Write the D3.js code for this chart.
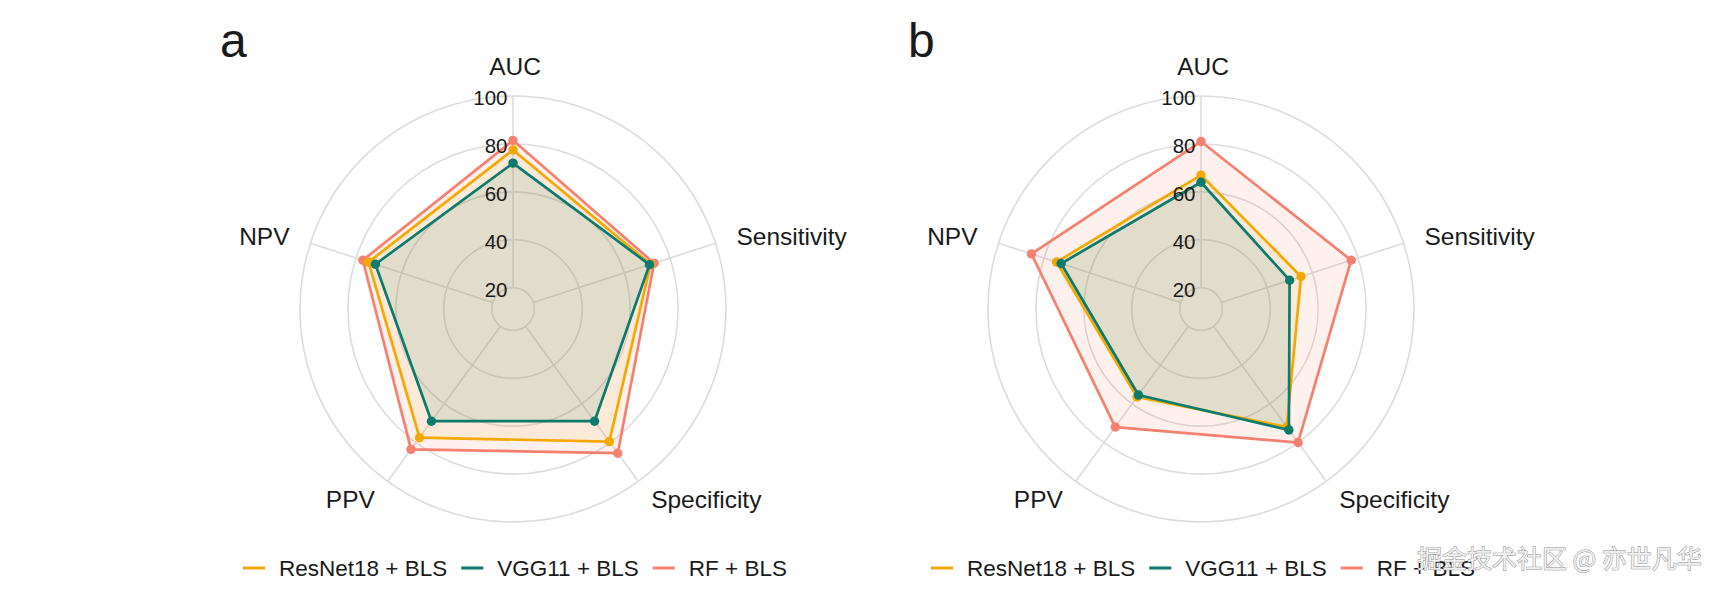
<!DOCTYPE html>
<html>
<head>
<meta charset="utf-8">
<script src="https://cdn.jsdelivr.net/npm/d3@7"></script>
<style>
  html, body { margin: 0; padding: 0; background: #fff; }
  svg { display: block; font-family: "Liberation Sans", Arial, Helvetica, sans-serif; }
</style>
</head>
<body>
<svg id="chart" width="1718" height="590"></svg>
<script>
// ---- data ----
const axesNames = ["AUC", "Sensitivity", "Specificity", "PPV", "NPV"];
const models = ["ResNet18 + BLS", "VGG11 + BLS", "RF + BLS"];
const gridTicks = [20, 40, 60, 80, 100];
const panelLabels = ["a", "b"];

const aResNet = [77.5, 71.5, 79.5, 77.5, 74.5];
const aVGG    = [72.0, 71.0, 69.0, 69.0, 71.5];
const aRF     = [81.5, 73.0, 85.5, 83.5, 77.0];

const bResNet = [67.0, 55.0, 72.0, 56.5, 74.5];
const bVGG    = [64.0, 50.0, 73.5, 55.5, 72.5];
const bRF     = [81.0, 77.0, 80.0, 72.0, 85.5];

const colors = ["#F5A800", "#0A7B6C", "#F6806F"];
const watermark = "掘金技术社区 @ 亦世凡华";

// ---- layout ----
const svg = d3.select("#chart");
const cy = 309;
const panels = [
  { label: panelLabels[0], cx: 513, series: [aResNet, aVGG, aRF] },
  { label: panelLabels[1], cx: 1201, series: [bResNet, bVGG, bRF] }
];
const rMax = 213;
const centreVal = 20 - (100 - 20) / 9;   // radial origin below the inner grid ring
const r = d3.scaleLinear().domain([centreVal, 100]).range([0, rMax]);
const angle = d3.scaleBand().domain(axesNames).range([0, 2 * Math.PI]).align(0).paddingInner(0).paddingOuter(0);
const ang = name => angle(name);
const px = (a, rad) => Math.sin(a) * rad;
const py = (a, rad) => -Math.cos(a) * rad;

const drawOrder = [2, 0, 1]; // RF below, then ResNet, then VGG on top
const fillOpacity = [0.09, 0.11, 0.12];

panels.forEach(p => {
  const g = svg.append("g").attr("transform", `translate(${p.cx},${cy})`);

  // grid circles
  g.selectAll("circle.grid").data(gridTicks).join("circle")
    .attr("class", "grid")
    .attr("r", d => r(d))
    .attr("fill", "none")
    .attr("stroke", "#DCDCDC")
    .attr("stroke-width", 1.6);

  // axis lines
  g.selectAll("line.axis").data(axesNames).join("line")
    .attr("x1", d => px(ang(d), r(20))).attr("y1", d => py(ang(d), r(20)))
    .attr("x2", d => px(ang(d), r(100))).attr("y2", d => py(ang(d), r(100)))
    .attr("stroke", "#DCDCDC")
    .attr("stroke-width", 1.6);

  const lineGen = d3.lineRadial()
    .angle((d, i) => ang(axesNames[i]))
    .radius(d => r(d))
    .curve(d3.curveLinearClosed);

  // fills
  drawOrder.forEach(si => {
    g.append("path")
      .attr("d", lineGen(p.series[si]))
      .attr("fill", colors[si])
      .attr("fill-opacity", fillOpacity[si])
      .attr("stroke", "none");
  });
  // outlines + points
  drawOrder.forEach(si => {
    g.append("path")
      .attr("d", lineGen(p.series[si]))
      .attr("fill", "none")
      .attr("stroke", colors[si])
      .attr("stroke-width", 2.7)
      .attr("stroke-linejoin", "round");
    g.selectAll(null).data(p.series[si]).join("circle")
      .attr("cx", (d, i) => px(ang(axesNames[i]), r(d)))
      .attr("cy", (d, i) => py(ang(axesNames[i]), r(d)))
      .attr("r", 4.7)
      .attr("fill", colors[si]);
  });

  // tick labels
  g.selectAll("text.tick").data(gridTicks).join("text")
    .attr("x", -5.5)
    .attr("y", d => -r(d) + 1.5)
    .attr("text-anchor", "end")
    .attr("dominant-baseline", "central")
    .attr("font-size", 20.5)
    .attr("fill", "#1a1a1a")
    .text(d => d);

  // axis labels
  const rl = 235;
  g.selectAll("text.axlab").data(axesNames).join("text")
    .attr("x", d => d === "AUC" ? 2 : px(ang(d), rl))
    .attr("y", d => d === "AUC" ? -243 : py(ang(d), rl))
    .attr("text-anchor", d => {
      const s = Math.sin(ang(d));
      return Math.abs(s) < 0.01 ? "middle" : (s > 0 ? "start" : "end");
    })
    .attr("dominant-baseline", "central")
    .attr("font-size", 24.5)
    .attr("fill", "#1a1a1a")
    .text(d => d);

  // panel label
  svg.append("text")
    .attr("x", p.cx - 293)
    .attr("y", 57)
    .attr("font-size", 48)
    .attr("fill", "#1a1a1a")
    .text(p.label);

  // legend
  const lg = svg.append("g");
  let x = 0;
  models.forEach((m, i) => {
    const it = lg.append("g");
    it.append("line")
      .attr("x1", x).attr("x2", x + 22)
      .attr("y1", 0).attr("y2", 0)
      .attr("stroke", colors[i]).attr("stroke-width", 3);
    const t = it.append("text")
      .attr("x", x + 36).attr("y", 0)
      .attr("dominant-baseline", "central")
      .attr("font-size", 22.5)
      .attr("fill", "#1a1a1a")
      .text(m);
    const w = t.node().getComputedTextLength();
    x += 36 + w + 14;
  });
  const total = x - 14;
  lg.attr("transform", `translate(${p.cx + 2 - total / 2},${568})`);
});

// watermark (overlaps the last legend entry, as in the reference)
svg.append("text")
  .attr("x", 1417).attr("y", 557)
  .attr("dominant-baseline", "central")
  .attr("font-family", "'Noto Sans CJK SC', sans-serif")
  .attr("font-size", 25)
  .attr("fill", "#efefef")
  .attr("stroke", "#8a8a8a")
  .attr("stroke-width", 0.9)
  .attr("paint-order", "stroke")
  .text(watermark);
</script>
</body>
</html>
